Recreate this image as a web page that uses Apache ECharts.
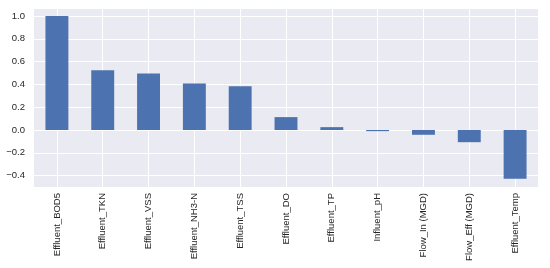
<!DOCTYPE html>
<html>
<head>
<meta charset="utf-8">
<script src="https://cdn.jsdelivr.net/npm/echarts@6/dist/echarts.min.js"></script>
<style>
  html, body { margin: 0; padding: 0; background: #fff; }
  #main { width: 550px; height: 268px; }
</style>
</head>
<body>
<div id="main"></div>
<script>
    // data
    var categories = ['Effluent_BOD5', 'Effluent_TKN', 'Effluent_VSS', 'Effluent_NH3-N', 'Effluent_TSS',
        'Effluent_DO', 'Effluent_TP', 'Influent_pH', 'Flow_In (MGD)', 'Flow_Eff (MGD)', 'Effluent_Temp'];
    var values = [1.0, 0.524, 0.495, 0.407, 0.383, 0.113, 0.025, -0.01, -0.042, -0.107, -0.427];
    var yMin = -0.5;
    var yMax = 1.07;

    var chart = echarts.init(document.getElementById('main'));
    var option = {
        backgroundColor: '#ffffff',
        textStyle: { fontFamily: 'Liberation Sans' },
        grid: {
            left: 34,
            right: 12,
            top: 8,
            bottom: 81,
            show: true,
            backgroundColor: '#EAEAF2',
            borderWidth: 0
        },
        xAxis: {
            type: 'category',
            data: categories,
            boundaryGap: true,
            axisLine: { show: false },
            axisTick: { show: false },
            axisLabel: {
                rotate: 90,
                interval: 0,
                margin: 6,
                fontSize: 9.5,
                color: '#262626'
            },
            splitLine: {
                show: true,
                alignWithLabel: true,
                lineStyle: { color: '#ffffff', width: 1 }
            }
        },
        yAxis: {
            type: 'value',
            min: yMin,
            max: yMax,
            splitNumber: 8,
            axisLine: { show: false },
            axisTick: { show: false },
            axisLabel: {
                showMinLabel: false,
                showMaxLabel: false,
                margin: 9,
                fontSize: 9.5,
                color: '#262626',
                formatter: function (v) {
                    return v.toFixed(1).replace('-', '\u2212');
                }
            },
            splitLine: {
                show: true,
                lineStyle: { color: '#ffffff', width: 1 }
            }
        },
        series: [
            {
                type: 'bar',
                data: values,
                barWidth: '50%',
                itemStyle: { color: '#4C72B0' }
            }
        ]
    };
    chart.setOption(option);
</script>
</body>
</html>
